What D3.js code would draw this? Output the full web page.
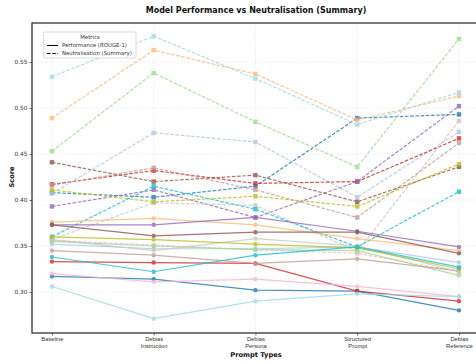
<!DOCTYPE html>
<html>
<head>
<meta charset="utf-8">
<script src="https://cdn.jsdelivr.net/npm/d3@7"></script>
<style>
  html, body { margin: 0; padding: 0; background: #fff; }
  svg { display: block; font-family: "DejaVu Sans", sans-serif; }
</style>
</head>
<body>
<svg id="chart" width="476" height="363"></svg>
<script>
// Prompt types along the x axis
const promptTypes = ["Baseline", "Debias\nInstruction", "Debias\nPersona", "Structured\nPrompt", "Debias\nReference"];

// One colour per model (tab20 picks)
const modelColors = ["#1f77b4", "#aec7e8", "#ffbb78", "#98df8a", "#d62728", "#9467bd", "#8c564b",
                     "#c49c94", "#f7b6d2", "#c7c7c7", "#bcbd22", "#17becf", "#9edae5"];

// Performance (ROUGE-1) per model, per prompt type
const performance = [
  [0.317, 0.314, 0.302, 0.301, 0.280],
  [0.352, 0.347, 0.347, 0.349, 0.332],
  [0.376, 0.380, 0.373, 0.358, 0.345],
  [0.355, 0.350, 0.346, 0.345, 0.318],
  [0.333, 0.332, 0.331, 0.301, 0.290],
  [0.373, 0.373, 0.381, 0.366, 0.349],
  [0.373, 0.361, 0.365, 0.365, 0.342],
  [0.345, 0.340, 0.331, 0.336, 0.323],
  [0.320, 0.311, 0.314, 0.306, 0.295],
  [0.357, 0.345, 0.358, 0.350, 0.322],
  [0.360, 0.357, 0.352, 0.348, 0.325],
  [0.338, 0.322, 0.340, 0.349, 0.327],
  [0.306, 0.271, 0.290, 0.298, 0.295]
];

// Neutralisation (Summary) per model, per prompt type
const neutralisation = [
  [0.408, 0.403, 0.415, 0.489, 0.493],
  [0.407, 0.473, 0.463, 0.403, 0.474],
  [0.489, 0.563, 0.537, 0.487, 0.513],
  [0.453, 0.538, 0.485, 0.436, 0.575],
  [0.417, 0.432, 0.418, 0.420, 0.467],
  [0.393, 0.411, 0.381, 0.420, 0.502],
  [0.441, 0.420, 0.427, 0.398, 0.436],
  [0.416, 0.435, 0.411, 0.381, 0.462],
  [0.356, 0.351, 0.346, 0.342, 0.322],
  [0.357, 0.397, 0.394, 0.344, 0.486],
  [0.411, 0.398, 0.404, 0.393, 0.439],
  [0.360, 0.415, 0.390, 0.349, 0.409],
  [0.534, 0.578, 0.532, 0.482, 0.517]
];

const yTicks = [0.30, 0.35, 0.40, 0.45, 0.50, 0.55];

const svg = d3.select("#chart");
const plot = { left: 32, top: 23, right: 479, bottom: 333 };

const x = d3.scalePoint().domain(promptTypes).range([31.6, 479.3]).padding(0.2);
const y = d3.scaleLinear().domain([0.2554, 0.5924]).range([plot.bottom, plot.top]);

// Grid
const grid = svg.append("g").attr("stroke", "#b0b0b0").attr("stroke-opacity", 0.45)
  .attr("stroke-width", 0.6).attr("stroke-dasharray", "1,1.5");
grid.selectAll("line.gx").data(promptTypes).join("line")
  .attr("x1", d => x(d)).attr("x2", d => x(d)).attr("y1", plot.top).attr("y2", plot.bottom);
grid.selectAll("line.gy").data(yTicks).join("line")
  .attr("x1", plot.left).attr("x2", plot.right).attr("y1", d => y(d)).attr("y2", d => y(d));

// Series
const lineGen = d3.line().x((d, i) => x(promptTypes[i])).y(d => y(d));
const series = svg.append("g");

neutralisation.forEach((vals, m) => {
  const g = series.append("g").attr("opacity", 0.8);
  g.append("path").attr("d", lineGen(vals)).attr("fill", "none")
    .attr("stroke", modelColors[m]).attr("stroke-width", 1.2).attr("stroke-dasharray", "3.6,1.6");
  g.selectAll("rect").data(vals).join("rect")
    .attr("x", (d, i) => x(promptTypes[i]) - 2.2).attr("y", d => y(d) - 2.2)
    .attr("width", 4.4).attr("height", 4.4).attr("fill", modelColors[m]);
});

performance.forEach((vals, m) => {
  const g = series.append("g").attr("opacity", 0.8);
  g.append("path").attr("d", lineGen(vals)).attr("fill", "none")
    .attr("stroke", modelColors[m]).attr("stroke-width", 1.2);
  g.selectAll("circle").data(vals).join("circle")
    .attr("cx", (d, i) => x(promptTypes[i])).attr("cy", d => y(d))
    .attr("r", 2.2).attr("fill", modelColors[m]);
});

// Frame
svg.append("rect").attr("x", plot.left).attr("y", plot.top)
  .attr("width", plot.right - plot.left).attr("height", plot.bottom - plot.top)
  .attr("fill", "none").attr("stroke", "#333").attr("stroke-width", 1.3);

// Axes
const yAxis = svg.append("g").attr("transform", `translate(${plot.left},0)`)
  .call(d3.axisLeft(y).tickValues(yTicks).tickFormat(d3.format(".2f")).tickSize(2.5).tickPadding(2));
const xAxis = svg.append("g").attr("transform", `translate(0,${plot.bottom})`)
  .call(d3.axisBottom(x).tickSize(2.5).tickPadding(2).tickFormat(""));
[yAxis, xAxis].forEach(a => {
  a.select(".domain").remove();
  a.selectAll(".tick line").attr("stroke", "#333").attr("stroke-width", 0.7);
  a.selectAll("text").attr("fill", "#333").attr("font-size", 5.8).attr("font-family", "DejaVu Sans");
});

// Multi-line x tick labels
xAxis.selectAll(".tick").each(function(d) {
  const t = d3.select(this).append("text").attr("text-anchor", "middle")
    .attr("fill", "#333").attr("font-size", 5.8);
  d.split("\n").forEach((line, i) => {
    t.append("tspan").attr("x", 0).attr("y", 8.2 + i * 6.8).text(line);
  });
});

// Titles
svg.append("text").attr("x", 256).attr("y", 13.3).attr("text-anchor", "middle")
  .attr("font-size", 8).attr("font-weight", "bold").attr("fill", "#111")
  .text("Model Performance vs Neutralisation (Summary)");
svg.append("text").attr("x", 256).attr("y", 356.5).attr("text-anchor", "middle")
  .attr("font-size", 6.7).attr("font-weight", "bold").attr("fill", "#111").text("Prompt Types");
svg.append("text").attr("transform", "translate(14,177) rotate(-90)").attr("text-anchor", "middle")
  .attr("font-size", 6.7).attr("font-weight", "bold").attr("fill", "#111").text("Score");

// Legend
const lg = svg.append("g").attr("transform", "translate(43.5,32)");
lg.append("rect").attr("width", 92.5).attr("height", 26).attr("rx", 1.5)
  .attr("fill", "#fff").attr("fill-opacity", 0.85).attr("stroke", "#d0d0d0").attr("stroke-width", 0.7);
lg.append("text").attr("x", 46.5).attr("y", 7).attr("text-anchor", "middle")
  .attr("font-size", 5.4).attr("fill", "#333").text("Metrics");
const legendItems = [
  { label: "Performance (ROUGE-1)", dash: null },
  { label: "Neutralisation (Summary)", dash: "3.6,1.6" }
];
legendItems.forEach((it, i) => {
  const yy = 13.5 + i * 8;
  lg.append("line").attr("x1", 3.5).attr("x2", 14.5).attr("y1", yy).attr("y2", yy)
    .attr("stroke", "#111").attr("stroke-width", 1.1).attr("stroke-dasharray", it.dash);
  lg.append("text").attr("x", 18.5).attr("y", yy + 1.9).attr("font-size", 5.4)
    .attr("fill", "#333").text(it.label);
});
</script>
</body>
</html>
